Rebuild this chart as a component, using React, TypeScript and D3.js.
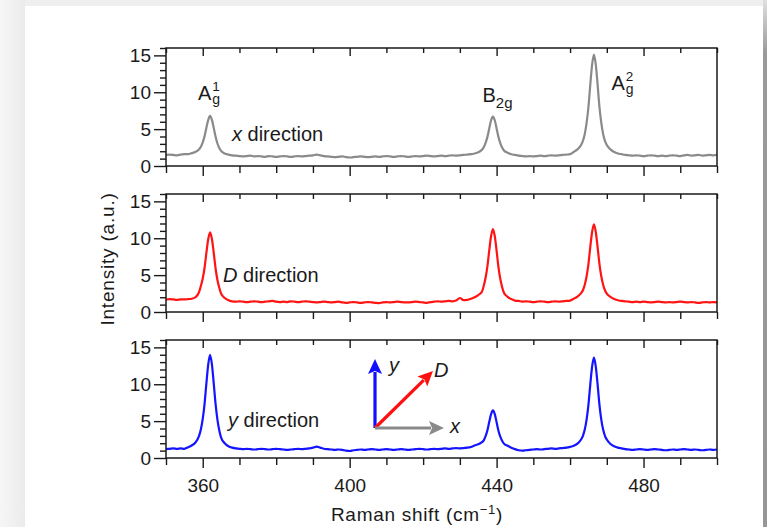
import * as React from 'react'
import { useEffect, useRef } from 'react'
import * as d3 from 'd3'

// Raman shift sampling (cm-1), denser around the three modes
const ramanShift = [
  350, 351, 352, 353, 354, 355, 356, 357, 358, 359,
  359.5, 360, 360.5, 361, 361.5, 362, 362.5, 363, 363.5, 364, 364.5, 365,
  366, 367, 368, 369, 370, 371, 372, 373, 374, 375,
  376, 377, 378, 379, 380, 381, 382, 383, 384, 385,
  386, 387, 388, 389, 390, 391, 392, 393, 394, 395,
  396, 397, 398, 399, 400, 401, 402, 403, 404, 405,
  406, 407, 408, 409, 410, 411, 412, 413, 414, 415,
  416, 417, 418, 419, 420, 421, 422, 423, 424, 425,
  426, 427, 428, 429, 430, 431, 432, 433, 434, 435,
  436,
  436.5, 437, 437.5, 438, 438.5, 439, 439.5, 440, 440.5, 441, 441.5, 442,
  443, 444, 445, 446, 447, 448, 449, 450, 451, 452,
  453, 454, 455, 456, 457, 458, 459, 460, 461, 462,
  463,
  463.5, 464, 464.5, 465, 465.5, 466, 466.5, 467, 467.5, 468, 468.5, 469, 469.5,
  470, 471, 472, 473, 474, 475, 476, 477, 478, 479,
  480, 481, 482, 483, 484, 485, 486, 487, 488, 489,
  490, 491, 492, 493, 494, 495, 496, 497, 498, 499,
  500,
]

const xDirection = [
  1.5, 1.55, 1.5, 1.45, 1.55, 1.6, 1.62, 1.75, 1.9, 2.25,
  2.6, 3.2, 4.05, 5.2, 6.25, 6.8, 6.25, 5.15, 3.95, 3.05, 2.45, 2.05,
  1.7, 1.55, 1.45, 1.4, 1.35, 1.3, 1.35, 1.4, 1.3, 1.35,
  1.3, 1.25, 1.35, 1.3, 1.25, 1.3, 1.35, 1.3, 1.25, 1.3,
  1.35, 1.3, 1.35, 1.4, 1.45, 1.55, 1.45, 1.35, 1.3, 1.25,
  1.2, 1.25, 1.3, 1.2, 1.15, 1.2, 1.25, 1.3, 1.25, 1.2,
  1.25, 1.3, 1.25, 1.3, 1.35, 1.3, 1.25, 1.3, 1.35, 1.3,
  1.25, 1.3, 1.35, 1.3, 1.35, 1.4, 1.35, 1.3, 1.35, 1.4,
  1.35, 1.4, 1.45, 1.4, 1.45, 1.5, 1.55, 1.6, 1.7, 1.85,
  2.2,
  2.55, 3.15, 3.95, 5.1, 6.2, 6.7, 6.2, 5.1, 3.95, 3.1, 2.5, 2.1,
  1.8, 1.6, 1.5, 1.4, 1.35, 1.3, 1.35, 1.3, 1.35, 1.4,
  1.35, 1.4, 1.45, 1.4, 1.45, 1.5, 1.55, 1.6, 1.9, 2.25,
  2.85,
  3.4, 4.35, 5.85, 8.0, 11.0, 13.75, 15.1, 13.75, 11.0, 8.0, 5.85, 4.35, 3.4,
  2.85, 2.25, 1.9, 1.7, 1.6, 1.5, 1.45, 1.4, 1.45, 1.4,
  1.35, 1.4, 1.45, 1.4, 1.35, 1.4, 1.35, 1.4, 1.45, 1.4,
  1.35, 1.45, 1.5, 1.4, 1.45, 1.5, 1.4, 1.45, 1.5, 1.45,
  1.5,
]

const dDirection = [
  1.7, 1.75, 1.7, 1.65, 1.7, 1.7, 1.75, 1.8, 2.0, 2.7,
  3.55, 4.55, 6.0, 8.05, 9.9, 10.8, 9.9, 8.0, 5.9, 4.35, 3.3, 2.5,
  1.9, 1.6, 1.45, 1.4, 1.45, 1.4, 1.35, 1.4, 1.45, 1.4,
  1.35, 1.4, 1.45, 1.5, 1.4, 1.35, 1.4, 1.35, 1.45, 1.4,
  1.35, 1.4, 1.45, 1.4, 1.35, 1.3, 1.35, 1.4, 1.35, 1.3,
  1.35, 1.4, 1.3, 1.25, 1.3, 1.35, 1.3, 1.25, 1.3, 1.35,
  1.3, 1.25, 1.2, 1.3, 1.35, 1.3, 1.35, 1.4, 1.35, 1.3,
  1.3, 1.35, 1.4, 1.35, 1.3, 1.25, 1.35, 1.4, 1.45, 1.4,
  1.45, 1.5, 1.45, 1.55, 1.9, 1.6, 1.65, 1.8, 2.0, 2.3,
  2.75,
  3.55, 4.65, 6.2, 8.35, 10.3, 11.25, 10.3, 8.3, 6.1, 4.5, 3.4, 2.6,
  2.05, 1.75, 1.55, 1.5, 1.4, 1.45, 1.4, 1.35, 1.4, 1.45,
  1.4, 1.35, 1.4, 1.45, 1.4, 1.45, 1.5, 1.55, 1.8, 2.1,
  2.55,
  2.95, 3.7, 4.85, 6.5, 8.8, 10.85, 11.9, 10.85, 8.8, 6.5, 4.85, 3.7, 2.95,
  2.5, 2.05, 1.75, 1.6, 1.5, 1.45, 1.4, 1.35, 1.4, 1.35,
  1.4, 1.35, 1.3, 1.35, 1.4, 1.35, 1.3, 1.35, 1.3, 1.35,
  1.4, 1.35, 1.3, 1.35, 1.3, 1.25, 1.3, 1.35, 1.3, 1.35,
  1.3,
]

const yDirection = [
  1.2, 1.25, 1.3, 1.25, 1.3, 1.25, 1.45, 1.7, 2.1, 3.0,
  3.9, 5.3, 7.35, 10.15, 12.7, 14.0, 12.7, 10.1, 7.3, 5.2, 3.75, 2.75,
  2.0, 1.6, 1.4, 1.3, 1.25, 1.2, 1.25, 1.2, 1.15, 1.2,
  1.25, 1.2, 1.15, 1.2, 1.25, 1.2, 1.15, 1.1, 1.15, 1.2,
  1.25, 1.2, 1.25, 1.3, 1.4, 1.55, 1.4, 1.25, 1.2, 1.15,
  1.1, 1.15, 1.1, 1.0, 0.95, 1.05, 1.1, 1.15, 1.1, 1.15,
  1.2, 1.15, 1.1, 1.15, 1.2, 1.15, 1.1, 1.15, 1.2, 1.15,
  1.1, 1.15, 1.2, 1.25, 1.2, 1.15, 1.2, 1.25, 1.2, 1.25,
  1.3, 1.25, 1.3, 1.35, 1.3, 1.35, 1.4, 1.5, 1.7, 1.85,
  2.15,
  2.4, 2.95, 3.75, 4.9, 5.95, 6.45, 5.95, 4.85, 3.7, 2.9, 2.35, 1.95,
  1.65, 1.4, 1.2, 1.05, 1.0, 1.05, 1.1, 1.15, 1.2, 1.15,
  1.2, 1.25, 1.3, 1.25, 1.3, 1.35, 1.4, 1.5, 1.65, 1.95,
  2.5,
  3.0, 3.85, 5.2, 7.2, 9.95, 12.4, 13.6, 12.4, 9.95, 7.2, 5.2, 3.85, 3.0,
  2.5, 1.9, 1.6, 1.4, 1.3, 1.2, 1.15, 1.1, 1.15, 1.2,
  1.15, 1.1, 1.15, 1.2, 1.15, 1.1, 1.05, 1.1, 1.15, 1.1,
  1.15, 1.2, 1.15, 1.1, 1.15, 1.1, 1.05, 1.1, 1.15, 1.1,
  1.15,
]

const xMajorTicks = [360, 400, 440, 480]
const xMinorTicks = [350, 370, 380, 390, 410, 420, 430, 450, 460, 470, 490, 500]
const yMajorTicks = [0, 5, 10, 15]
const yMinorTicks = [1, 2, 3, 4, 6, 7, 8, 9, 11, 12, 13, 14, 16]
const directionNames = ['x', 'D', 'y']

const FONT = '"Liberation Sans", Arial, Helvetica, sans-serif'
const INK = '#1a1a1a'

const App = () => {
  const svgRef = useRef<SVGSVGElement>(null)

  useEffect(() => {
    const svg = d3.select(svgRef.current)
    svg.selectAll('*').remove()

    const left = 166, right = 717, panelH = 118
    const tops = [48, 194, 340]
    const colors = ['#8a8a8a', '#ff1414', '#1414ff']
    const allSeries = [xDirection, dDirection, yDirection]

    // page frame / shadow
    const defs = svg.append('defs')
    const lg = defs.append('linearGradient').attr('id', 'lshade')
    lg.append('stop').attr('offset', '0%').attr('stop-color', '#f6f6f6')
    lg.append('stop').attr('offset', '100%').attr('stop-color', '#ebebeb')
    const rg = defs.append('linearGradient').attr('id', 'rshade').attr('x1', 0).attr('x2', 0).attr('y1', 0).attr('y2', 1)
    rg.append('stop').attr('offset', '0%').attr('stop-color', '#e0e0e0')
    rg.append('stop').attr('offset', '10%').attr('stop-color', '#9a9a9a')
    rg.append('stop').attr('offset', '100%').attr('stop-color', '#969696')
    svg.append('rect').attr('width', 767).attr('height', 527).attr('fill', '#ffffff')
    svg.append('rect').attr('width', 767).attr('height', 6).attr('fill', '#efefef')
    svg.append('rect').attr('width', 25).attr('height', 527).attr('fill', 'url(#lshade)')
    svg.append('rect').attr('x', 763).attr('width', 4).attr('height', 527).attr('fill', 'url(#rshade)')

    const x = d3.scaleLinear().domain([350, 500]).range([left, right])

    allSeries.forEach((values, i) => {
      const top = tops[i]
      const y = d3.scaleLinear().domain([0, 16]).range([top + panelH, top])
      const g = svg.append('g')

      const line = d3.line<number>()
        .x((d, k) => x(ramanShift[k]))
        .y(d => y(d))
        .curve(d3.curveMonotoneX)

      g.append('path')
        .attr('d', line(values))
        .attr('fill', 'none')
        .attr('stroke', colors[i])
        .attr('stroke-width', 2.2)
        .attr('stroke-linejoin', 'round')

      const styleAxis = (sel) => {
        sel.select('.domain').remove()
        sel.selectAll('line').attr('stroke', INK).attr('stroke-width', 1.4)
        sel.selectAll('text').attr('fill', INK).style('font-family', FONT).style('font-size', '19px')
      }

      // bottom ticks (outward)
      g.append('g').attr('transform', `translate(0,${top + panelH})`)
        .call(d3.axisBottom(x).tickValues(xMinorTicks).tickSize(7).tickFormat(() => ''))
        .call(styleAxis)
      g.append('g').attr('transform', `translate(0,${top + panelH})`)
        .call(d3.axisBottom(x).tickValues(xMajorTicks).tickSize(10).tickPadding(11)
          .tickFormat(i === 2 ? d3.format('d') : () => ''))
        .call(styleAxis)
      // top mirror ticks (inward)
      g.append('g').attr('transform', `translate(0,${top})`)
        .call(d3.axisBottom(x).tickValues(xMinorTicks).tickSize(5).tickFormat(() => ''))
        .call(styleAxis)
      g.append('g').attr('transform', `translate(0,${top})`)
        .call(d3.axisBottom(x).tickValues(xMajorTicks).tickSize(8).tickFormat(() => ''))
        .call(styleAxis)
      // left axis
      g.append('g').attr('transform', `translate(${left},0)`)
        .call(d3.axisLeft(y).tickValues(yMinorTicks).tickSize(6).tickFormat(() => ''))
        .call(styleAxis)
      g.append('g').attr('transform', `translate(${left},0)`)
        .call(d3.axisLeft(y).tickValues(yMajorTicks).tickSize(12).tickPadding(3).tickFormat(d3.format('d')))
        .call(styleAxis)

      g.append('rect')
        .attr('x', left).attr('y', top)
        .attr('width', right - left).attr('height', panelH)
        .attr('fill', 'none').attr('stroke', INK).attr('stroke-width', 1.5)
    })

    // direction labels
    const dirPos = [[232, 140.5], [223, 281.5], [228, 427]]
    directionNames.forEach((name, i) => {
      const t = svg.append('text')
        .attr('x', dirPos[i][0]).attr('y', dirPos[i][1])
        .attr('fill', INK).style('font-family', FONT).style('font-size', '20px')
      t.append('tspan').style('font-style', 'italic').text(name)
      t.append('tspan').text(' direction')
    })

    // mode labels: main letter, superscript, subscript stacked in one text
    const mode = (tx, ty, main, sup, sub) => {
      const t = svg.append('text').attr('x', tx).attr('y', ty).attr('fill', INK)
        .style('font-family', FONT).style('font-size', '20px')
      t.append('tspan').text(main)
      if (sup) {
        t.append('tspan').attr('dx', 1).attr('dy', -9.5).style('font-size', '13.5px').text(sup)
        t.append('tspan').attr('dx', -7.5).attr('dy', 13.5).style('font-size', '14px').text(sub)
      } else {
        t.append('tspan').attr('dx', 0).attr('dy', 6.5).style('font-size', '15px').text(sub)
      }
    }
    mode(198, 100, 'A', '1', 'g')
    mode(482.5, 101.5, 'B', null, '2g')
    mode(611.5, 90, 'A', '2', 'g')

    // axis titles
    const title = svg.append('text')
      .attr('x', 417).attr('y', 521).attr('text-anchor', 'middle')
      .attr('fill', INK).style('font-family', FONT).style('font-size', '19px')
      .style('letter-spacing', '0.7px')
    title.append('tspan').text('Raman shift (cm')
    title.append('tspan').attr('dy', -7).style('font-size', '13px').text('\u22121')
    title.append('tspan').attr('dy', 7).text(')')

    svg.append('text')
      .attr('transform', 'translate(114,259) rotate(-90)')
      .attr('text-anchor', 'middle')
      .attr('fill', INK).style('font-family', FONT).style('font-size', '19px')
      .style('letter-spacing', '0.8px')
      .text('Intensity (a.u.)')

    // polarisation arrows inset
    const ox = 375, oy = 428
    const arrows = [
      { tip: [375, 359], color: '#1010ff', name: 'y', lx: 389, ly: 372 },
      { tip: [433, 371], color: '#ff1010', name: 'D', lx: 434, ly: 377 },
      { tip: [444, 428], color: '#8a8a8a', name: 'x', lx: 450, ly: 433 },
    ]
    arrows.forEach(a => {
      const dx = a.tip[0] - ox, dy = a.tip[1] - oy
      const len = Math.hypot(dx, dy)
      const ux = dx / len, uy = dy / len
      const hl = 15, hw = 7
      const bx = a.tip[0] - ux * hl, by = a.tip[1] - uy * hl
      svg.append('line')
        .attr('x1', ox).attr('y1', oy).attr('x2', bx + ux * 2).attr('y2', by + uy * 2)
        .attr('stroke', a.color).attr('stroke-width', 3.2)
      svg.append('path')
        .attr('d', `M${a.tip[0]},${a.tip[1]}L${bx - uy * hw},${by + ux * hw}L${bx + ux * 3},${by + uy * 3}L${bx + uy * hw},${by - ux * hw}Z`)
        .attr('fill', a.color)
      svg.append('text')
        .attr('x', a.lx).attr('y', a.ly)
        .attr('fill', INK).style('font-family', FONT).style('font-size', '20px').style('font-style', 'italic')
        .text(a.name)
    })
  }, [])

  return (
    <svg ref={svgRef} width={767} height={527} style={{ position: 'absolute', left: 0, top: 0 }}></svg>
  )
}

export default App
